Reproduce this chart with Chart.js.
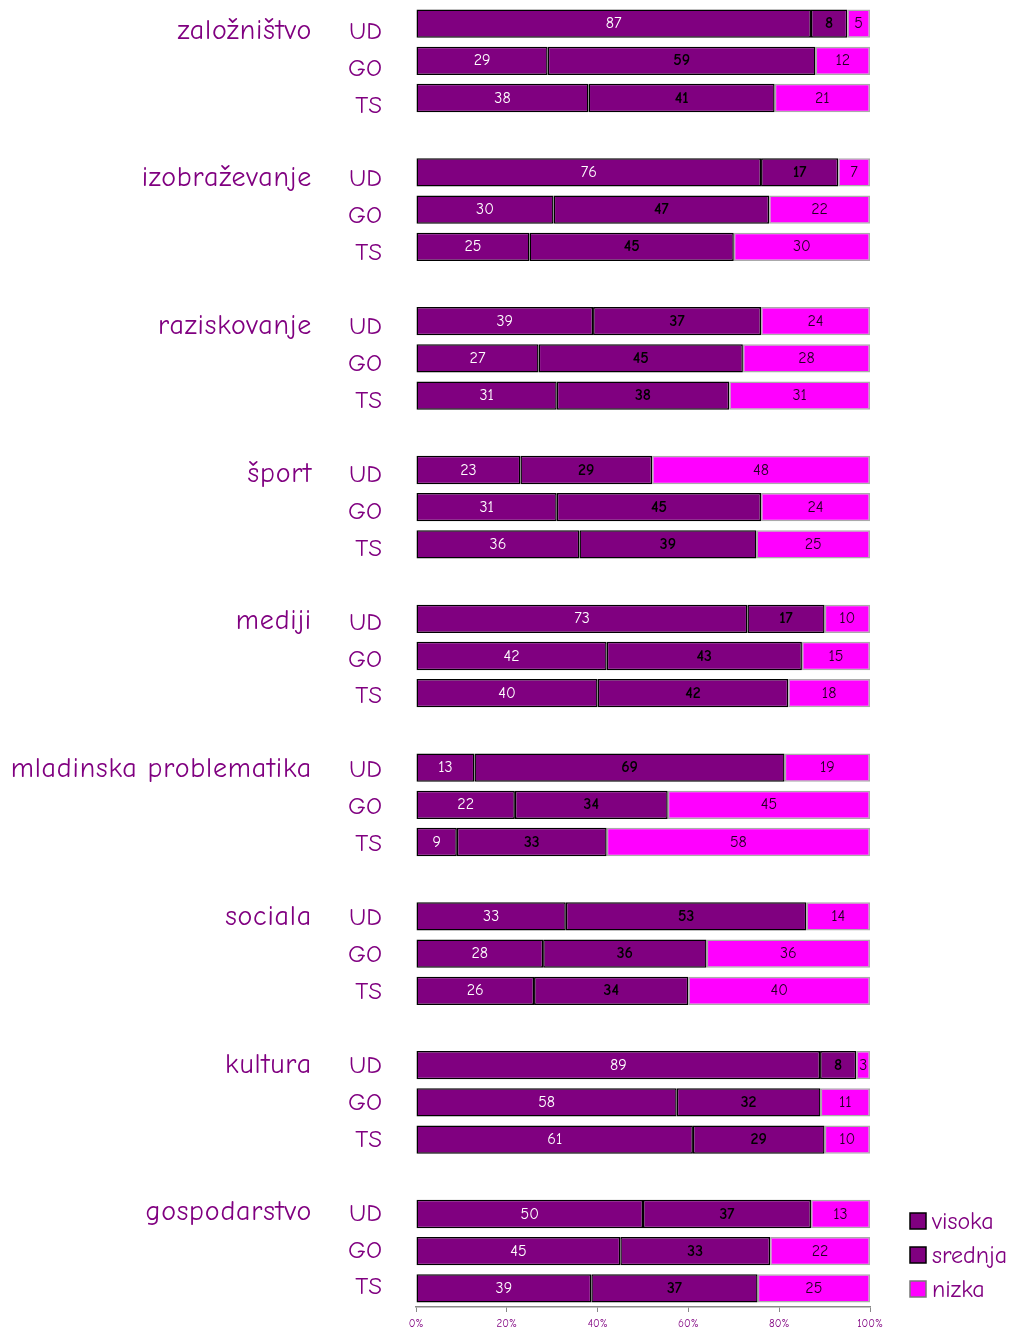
<!DOCTYPE html>
<html>
<head>
<meta charset="utf-8">
<script src="https://cdn.jsdelivr.net/npm/chart.js@4/dist/chart.umd.min.js"></script>
<style>
  html, body { margin: 0; padding: 0; background: #fff; }
  #wrap { width: 1014px; height: 1330px; }
</style>
</head>
<body>
<div id="wrap"><canvas id="ratingChart"></canvas></div>
<script>
const groups = ['založništvo', 'izobraževanje', 'raziskovanje', 'šport', 'mediji',
  'mladinska problematika', 'sociala', 'kultura', 'gospodarstvo'];
const subgroups = ['UD', 'GO', 'TS'];
const seriesNames = ['visoka', 'srednja', 'nizka'];

// one row per group: [UD, GO, TS]
const visoka = [[87, 29, 38], [76, 30, 25], [39, 27, 31], [23, 31, 36], [73, 42, 40],
  [13, 22, 9], [33, 28, 26], [89, 58, 61], [50, 45, 39]];
const srednja = [[8, 59, 41], [17, 47, 45], [37, 45, 38], [29, 45, 39], [17, 43, 42],
  [69, 34, 33], [53, 36, 34], [8, 32, 29], [37, 33, 37]];
const nizka = [[5, 12, 21], [7, 22, 30], [24, 28, 31], [48, 24, 25], [10, 15, 18],
  [19, 45, 58], [14, 36, 40], [3, 11, 10], [13, 22, 25]];

const xTicks = [0, 20, 40, 60, 80, 100];

const purple = '#800080';
const magenta = '#FF00FF';
const font = '"Comic Sans MS", "Comic Neue", "DejaVu Sans", sans-serif';

// rows: UD, GO, TS and an empty spacer between groups
const labels = [];
const raw = [[], [], []];
groups.forEach((g, gi) => {
  subgroups.forEach((s, si) => {
    labels.push(s);
    raw[0].push(visoka[gi][si]);
    raw[1].push(srednja[gi][si]);
    raw[2].push(nizka[gi][si]);
  });
  if (gi < groups.length - 1) {
    labels.push('');
    raw[0].push(null); raw[1].push(null); raw[2].push(null);
  }
});

// 100% stacked: scale each row to its total
const pct = raw.map(arr => arr.map((v, i) => {
  if (v === null) return null;
  const sum = raw[0][i] + raw[1][i] + raw[2][i];
  return v / sum * 100;
}));

const fills = [purple, purple, magenta];
const borders = ['#000', '#000', '#aaa'];
const labelColors = ['#fff', '#000', '#220022'];

// the side labels sit a little low at the top and drift up towards the bottom
const drift = i => 8 - 9 * i / (labels.length - 1);

const extras = {
  id: 'extras',
  afterDatasetsDraw(chart) {
    const ctx = chart.ctx;
    const y = chart.scales.y;
    ctx.save();
    // values inside segments
    chart.data.datasets.forEach((ds, k) => {
      const meta = chart.getDatasetMeta(k);
      meta.data.forEach((bar, i) => {
        const v = raw[k][i];
        if (v === null) return;
        ctx.font = (k === 1 ? 'bold ' : '') + '16px ' + font;
        ctx.fillStyle = labelColors[k];
        ctx.textAlign = 'center';
        ctx.textBaseline = 'middle';
        ctx.fillText(String(v), (bar.x + bar.base) / 2, bar.y);
      });
    });
    // UD / GO / TS
    ctx.font = '25px ' + font;
    ctx.fillStyle = purple;
    ctx.textAlign = 'right';
    ctx.textBaseline = 'middle';
    labels.forEach((l, i) => {
      if (l) ctx.fillText(l, 382, y.getPixelForValue(i) + drift(i));
    });
    // group names beside UD row
    ctx.font = '28px ' + font;
    ctx.letterSpacing = '0.8px';
    groups.forEach((g, gi) => {
      ctx.fillText(g, 312, y.getPixelForValue(gi * 4) + drift(gi * 4) - 1);
    });
    ctx.letterSpacing = '0px';
    // legend
    ctx.font = '24px ' + font;
    ctx.textAlign = 'left';
    seriesNames.forEach((n, k) => {
      const cy = 1221 + k * 34;
      ctx.fillStyle = fills[k];
      ctx.fillRect(910, cy - 8, 16, 16);
      ctx.lineWidth = 1.5;
      ctx.strokeStyle = k < 2 ? '#000' : '#777';
      ctx.strokeRect(910, cy - 8, 16, 16);
      ctx.fillStyle = purple;
      ctx.fillText(n, 932, cy + 1);
    });
    ctx.restore();
  }
};

new Chart(document.getElementById('ratingChart'), {
  type: 'bar',
  data: {
    labels: labels,
    datasets: seriesNames.map((n, k) => ({
      label: n,
      data: pct[k],
      backgroundColor: fills[k],
      borderColor: borders[k],
      borderWidth: 1.5,
      borderSkipped: false,
      barPercentage: 0.76,
      categoryPercentage: 1
    }))
  },
  options: {
    indexAxis: 'y',
    responsive: true,
    maintainAspectRatio: false,
    animation: false,
    layout: { padding: { top: 5, right: 144, left: 0, bottom: 0 } },
    plugins: {
      legend: { display: false },
      tooltip: { enabled: false }
    },
    scales: {
      x: {
        stacked: true,
        min: 0,
        max: 100,
        afterBuildTicks: s => { s.ticks = xTicks.map(v => ({ value: v })); },
        afterFit: s => { s.height = 23; },
        grid: { drawOnChartArea: false, drawTicks: true, tickLength: 5, color: '#888' },
        border: { color: '#888', width: 1.5 },
        ticks: {
          callback: v => v + '%',
          color: purple,
          padding: 5,
          maxRotation: 0,
          font: { family: font, size: 11 }
        }
      },
      y: {
        stacked: true,
        afterFit: s => { s.width = 416; },
        grid: { display: false, drawTicks: false },
        border: { display: false },
        ticks: { display: false }
      }
    }
  },
  plugins: [extras]
});
</script>
</body>
</html>
